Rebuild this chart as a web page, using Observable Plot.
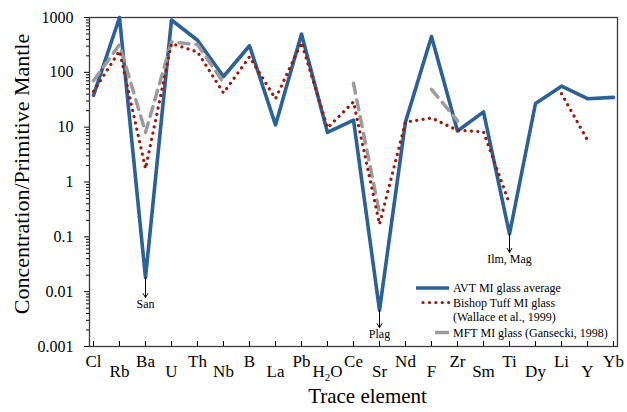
<!DOCTYPE html>
<html>
<head>
<meta charset="utf-8">
<script src="https://cdn.jsdelivr.net/npm/d3@7"></script>
<script src="https://cdn.jsdelivr.net/npm/@observablehq/plot@0.6"></script>
<style>
  html, body { margin: 0; padding: 0; background: white; }
  svg, svg text { font-family: "Liberation Serif", "Times New Roman", serif !important; }
</style>
</head>
<body>
<div id="chart"></div>
<script>
// Categories (trace elements), in plotted order
const elements = ["Cl","Rb","Ba","U","Th","Nb","B","La","Pb","H2O","Ce","Sr","Nd","F","Zr","Sm","Ti","Dy","Li","Y","Yb"];

// AVT MI glass average
const avt = [38, 1000, 0.018, 900, 385, 84, 305, 11, 500, 8.0, 13.5, 0.0046, 12.5, 450, 8.5, 19, 0.113, 27, 56, 33, 35];
// Bishop Tuff MI glass (Wallace et al., 1999)
const bishop = [45, 245, 1.75, 335, 235, 42, 192, 33, 350, 9.7, 29, 0.17, 12.4, 14.7, 8.8, 8.2, 0.4, null, 41, 5.8, null];
// MFT MI glass (Gansecki, 1998)
const mft = [70, 320, 8, 360, 320, 65, null, null, null, null, 63, 0.27, null, 49, 13, null, null, null, null, null, null];

// Y tick labels (log scale, powers of ten)
const yTicks = [0.001, 0.01, 0.1, 1, 10, 100, 1000];

// Annotations: mineral phases, pointing down from the AVT minima
const annElements = ["Ba", "Sr", "Ti"];
const annLabels = ["San", "Plag", "Ilm, Mag"];
const annTips = [0.0078, 0.0022, 0.052];

// Legend entries
const legendLabels = [["AVT MI glass average"], ["Bishop Tuff MI glass", "(Wallace et al., 1999)"], ["MFT MI glass (Gansecki, 1998)"]];

const colors = { avt: "#2b6197", bishop: "#9c1a0c", mft: "#9b9b9b" };
const serif = "Liberation Serif, Times New Roman, serif";

const rows = elements.map((el, i) => ({
  el,
  avt: avt[i] ?? NaN,
  bishop: bishop[i] ?? NaN,
  mft: mft[i] ?? NaN
}));

const ann = annElements.map((el, i) => ({
  el,
  from: avt[elements.indexOf(el)],
  to: annTips[i],
  label: annLabels[i]
}));

const minorTicks = d3.scaleLog().domain([0.001, 1000]).ticks().filter(t => !yTicks.some(m => Math.abs(m - t) / m < 1e-9));

const evenEls = elements.filter((_, i) => i % 2 === 0);
const oddEls = elements.filter((_, i) => i % 2 === 1);

const plot = Plot.plot({
  width: 627,
  height: 412,
  marginLeft: 89,
  marginRight: 10,
  marginTop: 17,
  marginBottom: 66,
  style: { fontFamily: serif, fontSize: "16px", background: "white", color: "black" },
  x: { type: "point", domain: elements, padding: 0 },
  y: { type: "log", domain: [0.001, 1000] },
  marks: [
    Plot.axisY({ ticks: minorTicks, tickSize: 3, tickFormat: () => "", label: null }),
    Plot.axisY({ ticks: yTicks, tickSize: 5, tickPadding: 11, tickFormat: d => String(d), fontSize: 16, label: null }),
    Plot.axisX({ ticks: elements, tickSize: -5, tickFormat: () => "", label: null }),
    Plot.axisX({ ticks: evenEls, tickSize: 0, tickPadding: 8, fontSize: 17, label: null }),
    Plot.axisX({ ticks: oddEls, tickSize: 0, tickPadding: 18, fontSize: 17, label: null }),
    Plot.frame({ stroke: "#3a3a3a", strokeWidth: 1.3 }),
    Plot.line(rows, { x: "el", y: "avt", stroke: colors.avt, strokeWidth: 3.6 }),
    Plot.line(rows, { x: "el", y: "mft", stroke: colors.mft, strokeWidth: 3.5, strokeDasharray: "10,7" }),
    Plot.line(rows, { x: "el", y: "bishop", stroke: colors.bishop, strokeWidth: 3.2, strokeDasharray: "0.1,6.3", strokeLinecap: "round" }),
    Plot.arrow(ann, { x: "el", y1: "from", y2: "to", stroke: "black", strokeWidth: 1, headLength: 7 }),
    Plot.text(ann, { x: "el", y: "to", text: "label", dy: 2, lineAnchor: "top", fontSize: 12, fontFamily: serif }),
    Plot.text(["Concentration/Primitive Mantle"], { frameAnchor: "left", textAnchor: "middle", rotate: -90, dx: -68, dy: -8, fontSize: 22, fontFamily: serif }),
    Plot.text(["Trace element"], { frameAnchor: "bottom", dx: 14, dy: 56, fontSize: 21, fontFamily: serif })
  ]
});

// Legend inside the plot, lower right
const svg = d3.select(plot);
svg.attr("font-family", serif);
const lg = svg.append("g").attr("font-family", serif).attr("font-size", 12).attr("text-anchor", "start");
const rowsY = [288, 302.5, 316.5, 332.5];
const swatches = [
  { x1: 416, stroke: colors.avt, width: 3.6, dash: null, cap: "butt" },
  { x1: 423, stroke: colors.bishop, width: 3.2, dash: "0.1,6.3", cap: "round" },
  { x1: 435, stroke: colors.mft, width: 3.5, dash: "14,7", cap: "butt" }
];
const lineRows = [rowsY[0], rowsY[1], rowsY[3]];
swatches.forEach((s, i) => {
  const l = lg.append("line").attr("x1", s.x1).attr("x2", 449).attr("y1", lineRows[i]).attr("y2", lineRows[i])
    .attr("stroke", s.stroke).attr("stroke-width", s.width).attr("stroke-linecap", s.cap);
  if (s.dash) l.attr("stroke-dasharray", s.dash);
});
const textLines = [legendLabels[0][0], legendLabels[1][0], legendLabels[1][1], legendLabels[2][0]];
textLines.forEach((t, i) => {
  lg.append("text").attr("x", 453).attr("y", rowsY[i]).attr("dy", "0.35em").attr("fill", "black").attr("text-anchor", "start").text(t);
});

// Subscript for H2O
svg.selectAll("text").filter(function() { return this.textContent === "H2O"; }).each(function() {
  const t = d3.select(this);
  t.text("");
  t.append("tspan").text("H");
  t.append("tspan").attr("dy", 4).attr("font-size", 11).text("2");
  t.append("tspan").attr("dy", -4).text("O");
});

document.getElementById("chart").appendChild(plot);
</script>
</body>
</html>
